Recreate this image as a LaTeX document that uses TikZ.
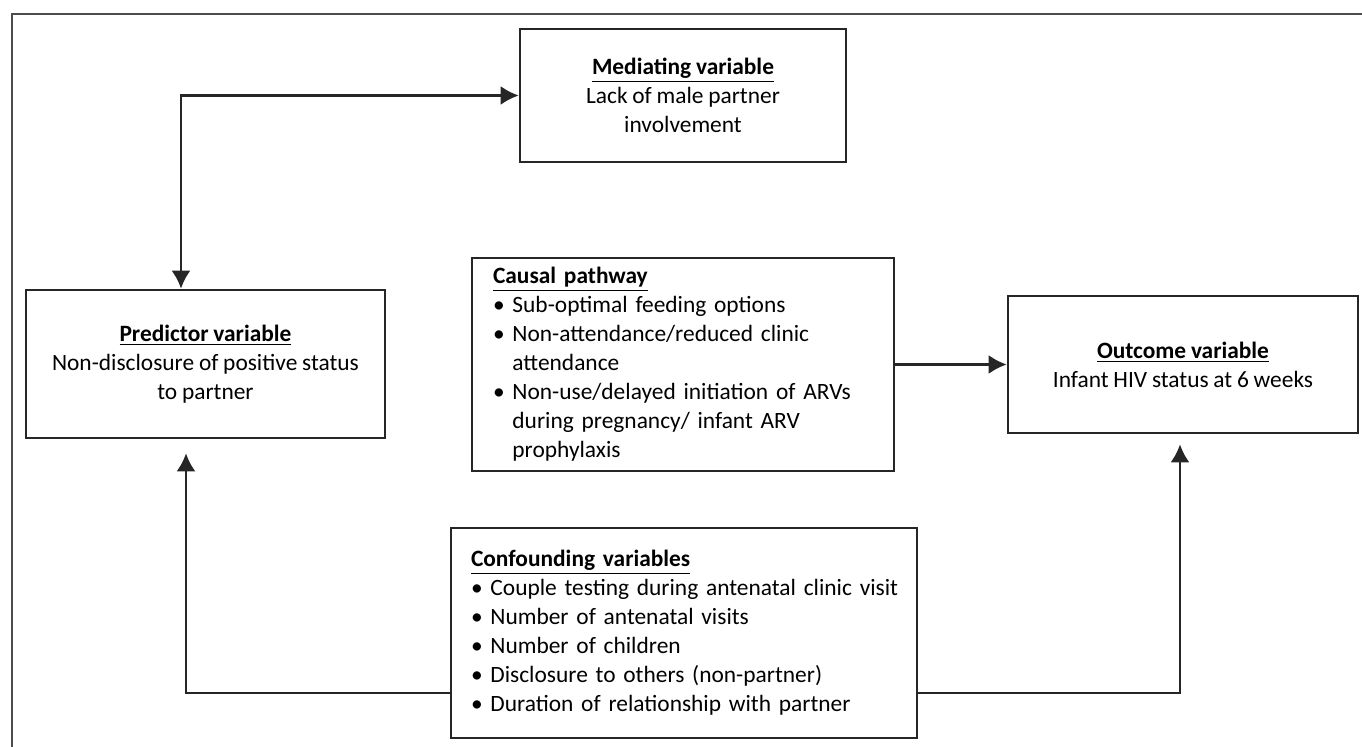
\documentclass[tikz,border=0pt]{standalone}
\usepackage{fontspec}
\setmainfont[WordSpace=0.9]{Carlito}
\usetikzlibrary{arrows.meta}
\usetikzlibrary{calc}
\tikzstyle{VarNode}=[rectangle, draw=black!85, line width=1.3pt, inner sep=0pt, align=center, font=\fontsize{11.7}{14.5}\selectfont]
\tikzstyle{ListNode}=[VarNode, align=left]
\tikzstyle{LinkEdge}=[->, line width=1.3pt, draw=black!85]
\tikzset{>={Latex[length=9pt,width=9.5pt]}}
\newcommand{\hd}[1]{\underline{\textbf{#1}}}
\newcommand{\bl}{\textbullet\ }
\newcommand{\hang}{\phantom{\textbullet\ }}

\begin{document}
\begin{tikzpicture}[x=0.5pt,y=-0.5pt]
\useasboundingbox (0,0) rectangle (1362,747);
\draw[black!70, line width=0.6pt] (12,747) -- (12,14) -- (1362,14);

\node[VarNode, minimum width=163pt, minimum height=66.5pt](Med) at (683,95.5) {\hd{Mediating variable}\\Lack of male partner\\involvement};
\node[VarNode, minimum width=179.5pt, minimum height=74pt](Pred) at (205.5,364) {\hd{Predictor variable}\\Non-disclosure of positive status\\to partner};
\node[ListNode, text width=190pt, inner xsep=10.5pt, minimum height=106.5pt](Cause) at (683,364.5) {\hd{Causal pathway}\\\bl Sub-optimal feeding options\\\bl Non-attendance/reduced clinic\\\hang attendance\\\bl Non-use/delayed initiation of ARVs\\\hang during pregnancy/ infant ARV\\\hang prophylaxis};
\node[VarNode, minimum width=175pt, minimum height=68.5pt](Out) at (1183,364.5) {\hd{Outcome variable}\\Infant HIV status at 6 weeks};
\node[ListNode, text width=213pt, inner xsep=10pt, minimum height=105pt](Conf) at (684,633) {\hd{Confounding variables}\\\mbox{\bl Couple testing during antenatal clinic visit}\\\bl Number of antenatal visits\\\bl Number of children\\\bl Disclosure to others (non-partner)\\\bl Duration of relationship with partner};

\draw[LinkEdge, <->] ($(Pred.north)+(-24.5,0)$) |- (Med.west);
\draw[LinkEdge] (Cause.east) -- (Out.west);
\draw[LinkEdge, shorten >=7pt] ($(Conf.west)+(0,60)$) -| ($(Pred.south)+(-19.5,0)$);
\draw[LinkEdge, shorten >=5pt] ($(Conf.east)+(0,60)$) -| ($(Out.south)+(-3,0)$);
\end{tikzpicture}
\end{document}
